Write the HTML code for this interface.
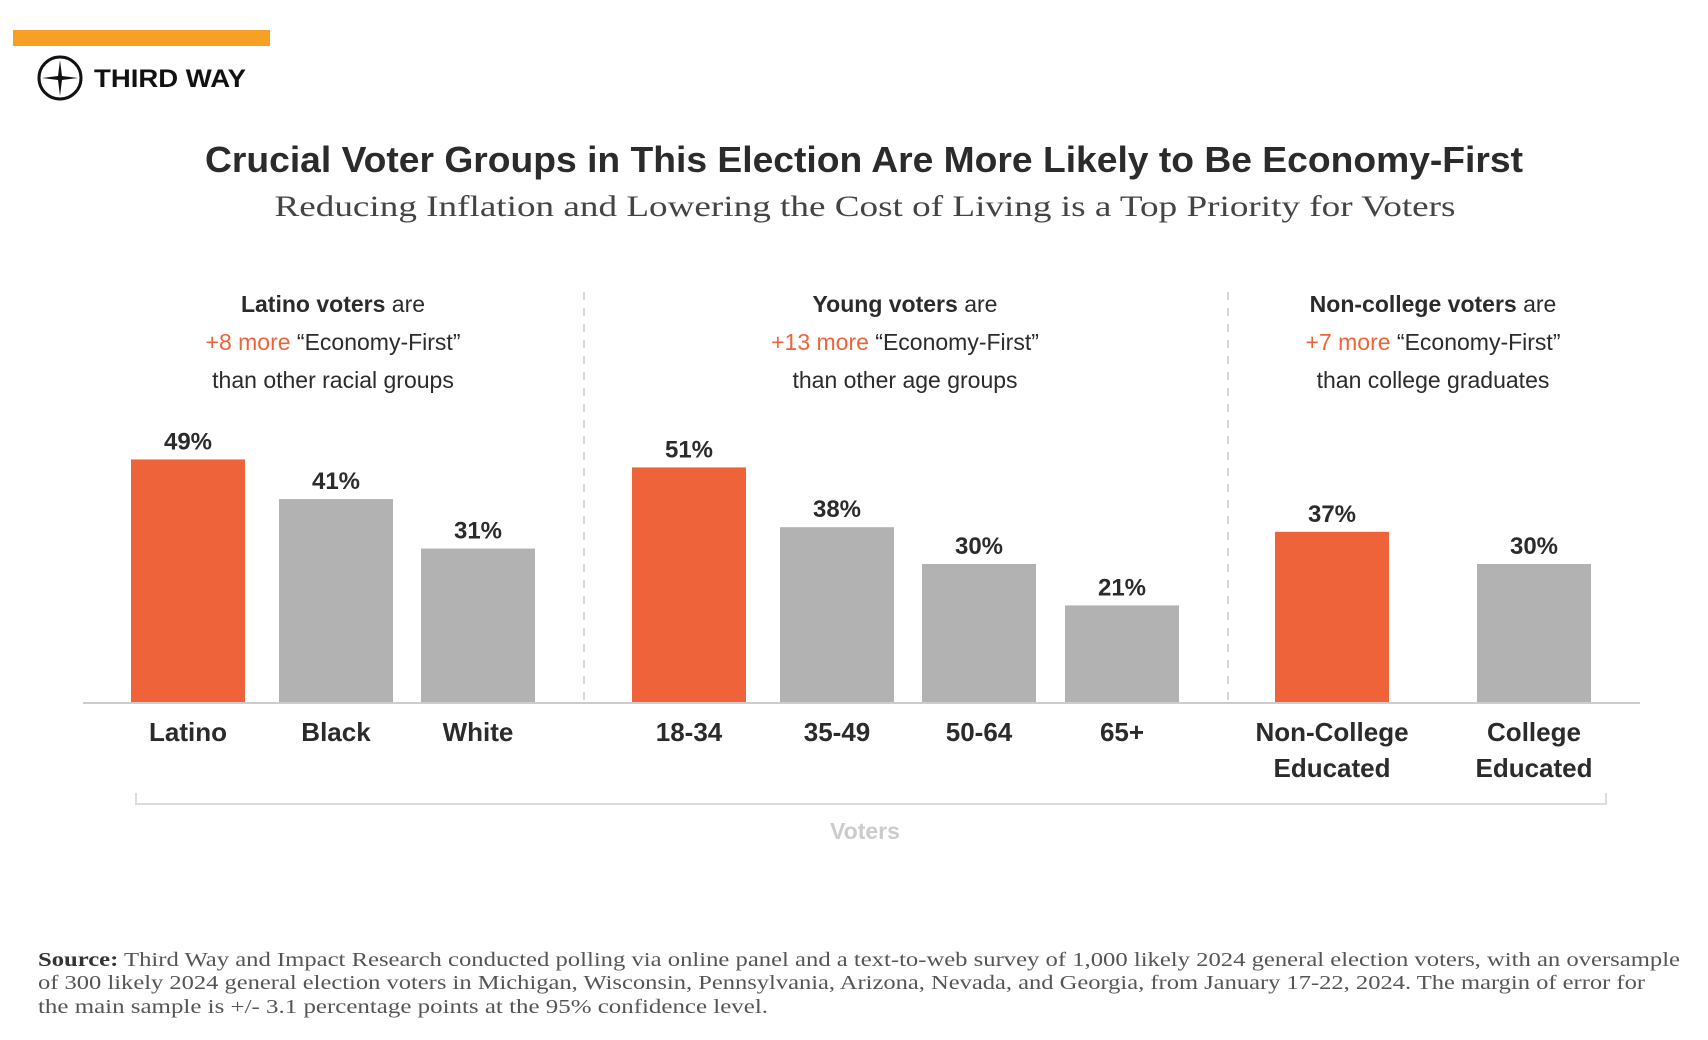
<!DOCTYPE html>
<html><head><meta charset="utf-8"><style>
html,body{margin:0;padding:0;background:#fff;width:1708px;height:1040px;overflow:hidden}
svg{display:block}
text{font-family:"Liberation Sans",sans-serif;fill:#2b2b2b}
</style></head><body>
<svg id="chart" width="1708" height="1040" viewBox="0 0 1708 1040">
<rect x="13" y="30" width="257" height="16" fill="#f7a024"/>
<g>
<circle cx="60" cy="78" r="21" fill="none" stroke="#111" stroke-width="3"/>
<path d="M60 60 L62 76 L78 78 L62 80 L60 96 L58 80 L42 78 L58 76 Z" fill="#111"/>
<text x="94" y="87" font-size="25" font-weight="bold" textLength="152" lengthAdjust="spacingAndGlyphs" style="fill:#111">THIRD WAY</text>
</g>
<text x="864" y="172" text-anchor="middle" font-size="36" font-weight="bold" textLength="1318" lengthAdjust="spacingAndGlyphs">Crucial Voter Groups in This Election Are More Likely to Be Economy-First</text>
<text x="865" y="216" text-anchor="middle" font-size="30" textLength="1181" lengthAdjust="spacingAndGlyphs" style="font-family:'Liberation Serif',serif;fill:#444">Reducing Inflation and Lowering the Cost of Living is a Top Priority for Voters</text>
<g id="annos"></g>
<line x1="584" y1="292" x2="584" y2="703" stroke="#ccc" stroke-width="1.5" stroke-dasharray="8 8"/>
<line x1="1228" y1="292" x2="1228" y2="703" stroke="#ccc" stroke-width="1.5" stroke-dasharray="8 8"/>
<g id="bars"></g>
<line x1="83" y1="703" x2="1640" y2="703" stroke="#ccc" stroke-width="2"/>
<path d="M136 793 V804 H1606 V793" fill="none" stroke="#ddd" stroke-width="2"/>
<text x="865" y="839" text-anchor="middle" font-size="23" font-weight="bold" style="fill:#ccc">Voters</text>
<g font-size="20">
<text x="38" y="966" textLength="1642" lengthAdjust="spacingAndGlyphs" style="font-family:'Liberation Serif',serif;fill:#555"><tspan font-weight="bold" style="fill:#333">Source:</tspan> Third Way and Impact Research conducted polling via online panel and a text-to-web survey of 1,000 likely 2024 general election voters, with an oversample</text>
<text x="38" y="989" textLength="1607" lengthAdjust="spacingAndGlyphs" style="font-family:'Liberation Serif',serif;fill:#555">of 300 likely 2024 general election voters in Michigan, Wisconsin, Pennsylvania, Arizona, Nevada, and Georgia, from January 17-22, 2024. The margin of error for</text>
<text x="38" y="1013" textLength="730" lengthAdjust="spacingAndGlyphs" style="font-family:'Liberation Serif',serif;fill:#555">the main sample is +/- 3.1 percentage points at the 95% confidence level.</text>
</g>
</svg>
<script>
const categories = ["Latino","Black","White","18-34","35-49","50-64","65+","Non-College|Educated","College|Educated"];
const values = [49,41,31,51,38,30,21,37,30];
const highlighted = [true,false,false,true,false,false,false,true,false];
const groupOf = [0,0,0,1,1,1,1,2,2];
const barLefts = [131,279,421,632,780,922,1065,1275,1477];
const groupScale = [4.95,4.6,4.6];
const BAR_W = 114, BASE = 702;
function yScale(v,g){ return BASE - v*groupScale[g]; }
const NS = "http://www.w3.org/2000/svg";
const bars = document.getElementById("bars");
categories.forEach((c,i)=>{
  const x = barLefts[i], y = yScale(values[i], groupOf[i]);
  const r = document.createElementNS(NS,"rect");
  r.setAttribute("x",x); r.setAttribute("y",y); r.setAttribute("width",BAR_W); r.setAttribute("height",BASE-y);
  r.setAttribute("fill", highlighted[i] ? "#ef633a" : "#b2b2b2");
  
  
  bars.appendChild(r);
  const t = document.createElementNS(NS,"text");
  t.setAttribute("x", x+BAR_W/2); t.setAttribute("y", y-10);
  t.setAttribute("text-anchor","middle"); t.setAttribute("font-size","24"); t.setAttribute("font-weight","bold");
  t.textContent = values[i] + "%";
  
  
  bars.appendChild(t);
  c.split('|').forEach((line,j)=>{
    const l = document.createElementNS(NS,"text");
    l.setAttribute("x", x+BAR_W/2); l.setAttribute("y", 741 + j*36);
    l.setAttribute("text-anchor","middle"); l.setAttribute("font-size","26"); l.setAttribute("font-weight","bold");
    l.textContent = line;
    
    
    bars.appendChild(l);
  });
});
const annoCenters = [333,905,1433];
const annoBold = ["Latino voters","Young voters","Non-college voters"];
const annoDelta = ["+8 more","+13 more","+7 more"];
const annoLast = ["than other racial groups","than other age groups","than college graduates"];
const annos = document.getElementById("annos");
annoCenters.forEach((cx,i)=>{
  const lines = [
    `<tspan font-weight="bold">${annoBold[i]}</tspan> are`,
    `<tspan style="fill:#ef633a">${annoDelta[i]}</tspan> “Economy-First”`,
    annoLast[i]];
  lines.forEach((h,j)=>{
    const t = document.createElementNS(NS,"text");
    t.setAttribute("x",cx); t.setAttribute("y",312+j*38);
    t.setAttribute("text-anchor","middle"); t.setAttribute("font-size","23");
    t.innerHTML = h;
    
    
    annos.appendChild(t);
  });
});
</script>
</body></html>
